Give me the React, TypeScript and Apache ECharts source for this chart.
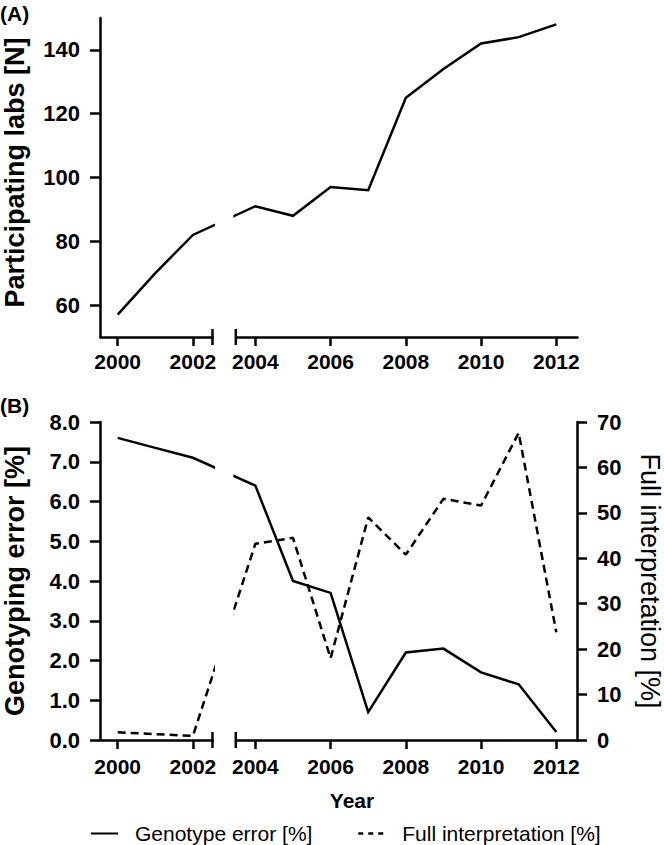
import React, { useEffect, useRef } from 'react';
import * as echarts from 'echarts';

// ---- data ----
const yearsA = [2000, 2001, 2002, 2004, 2005, 2006, 2007, 2008, 2009, 2010, 2011, 2012];
const participatingLabs = [57, 70, 82, 91, 88, 97, 96, 125, 134, 142, 144, 148];

const yearsB = [2000, 2001, 2002, 2004, 2005, 2006, 2007, 2008, 2009, 2010, 2011, 2012];
const genotypeError = [7.6, 7.35, 7.1, 6.4, 4.0, 3.7, 0.7, 2.2, 2.3, 1.7, 1.4, 0.2];
const fullInterpretation = [1.7, 1.3, 0.9, 43.2, 44.5, 18.0, 49.0, 40.8, 53.1, 51.6, 67.6, 23.7];

const yearTicks = [2000, 2002, 2004, 2006, 2008, 2010, 2012];
const labsTicks = [60, 80, 100, 120, 140];
const axisBreak = { start: 2002.52, end: 2003.48, gap: 0.62 };

const FONT = "'Liberation Sans', Arial, Helvetica, sans-serif";
const BLACK = '#000';

const pairs = (xs: number[], ys: number[]) => xs.map((x, i) => [x, ys[i]]);

export default function App() {
  const ref = useRef<HTMLDivElement>(null);

  useEffect(() => {
    if (!ref.current) return;
    const chart = echarts.init(ref.current, undefined, { renderer: 'svg' });

    const xAxisBase = (gridIndex: number, margin: number, extra: any = {}) => ({
      type: 'value',
      gridIndex,
      min: 1999.53,
      max: 2012.55,
      breaks: [{ ...axisBreak }],
      breakArea: { show: false },
      axisLine: { show: true, onZero: false, lineStyle: { color: BLACK, width: 2.5 } },
      axisTick: { show: true, customValues: yearTicks, length: 9, lineStyle: { color: BLACK, width: 2.5 } },
      axisLabel: {
        customValues: yearTicks,
        color: BLACK,
        fontSize: 21,
        fontWeight: 'bold',
        fontFamily: FONT,
        margin,
        formatter: (v: number) => String(v),
      },
      splitLine: { show: false },
      ...extra,
    });

    const yAxisStyle = {
      axisLine: { show: true, lineStyle: { color: BLACK, width: 2.5 } },
      axisTick: { show: true, length: 10, lineStyle: { color: BLACK, width: 2.5 } },
      splitLine: { show: false },
    };

    const option: any = {
      animation: false,
      backgroundColor: '#fff',
      grid: [
        { left: 100, top: 18, width: 477, height: 319, outerBoundsMode: 'none', containLabel: false },
        { left: 100, top: 422, width: 477, height: 318, outerBoundsMode: 'none', containLabel: false },
      ],
      xAxis: [
        xAxisBase(0, 14),
        xAxisBase(1, 16, {
          name: 'Year',
          nameLocation: 'middle',
          nameGap: 50,
          nameTextStyle: { color: BLACK, fontSize: 21, fontWeight: 'bold', fontFamily: FONT, padding: [0, 0, 0, 27] },
        }),
      ],
      yAxis: [
        {
          type: 'value',
          gridIndex: 0,
          min: 50,
          max: 150,
          ...yAxisStyle,
          axisTick: { ...yAxisStyle.axisTick, customValues: labsTicks },
          axisLabel: { customValues: labsTicks, color: BLACK, fontSize: 22, fontWeight: 'bold', fontFamily: FONT, margin: 20 },
          name: 'Participating labs [N]',
          nameLocation: 'middle',
          nameGap: 72,
          nameTextStyle: { color: BLACK, fontSize: 27, fontWeight: 'bold', fontFamily: FONT, padding: [0, 0, 0, 10] },
        },
        {
          type: 'value',
          gridIndex: 1,
          min: 0,
          max: 8,
          interval: 1,
          ...yAxisStyle,
          axisLabel: {
            color: BLACK, fontSize: 22, fontWeight: 'bold', fontFamily: FONT, margin: 20,
            formatter: (v: number) => v.toFixed(1),
          },
          name: 'Genotyping error [%]',
          nameLocation: 'middle',
          nameGap: 72,
          nameTextStyle: { color: BLACK, fontSize: 27, fontWeight: 'bold', fontFamily: FONT },
        },
        {
          type: 'value',
          gridIndex: 1,
          position: 'right',
          min: 0,
          max: 70,
          interval: 10,
          ...yAxisStyle,
          axisLabel: { color: BLACK, fontSize: 22, fontWeight: 'bold', fontFamily: FONT, margin: 20 },
          name: 'Full interpretation [%]',
          nameLocation: 'middle',
          nameRotate: -90,
          nameGap: 59,
          nameTextStyle: { color: BLACK, fontSize: 27, fontWeight: 'normal', fontFamily: FONT },
        },
      ],
      legend: [
        {
          data: ['Genotype error [%]'],
          left: 90,
          top: 823,
          padding: 0,
          itemWidth: 27,
          itemHeight: 14,
          selectedMode: false,
          itemStyle: { color: 'transparent', borderColor: 'transparent', borderWidth: 0, opacity: 0 },
          textStyle: { color: BLACK, fontSize: 21, fontFamily: FONT, padding: [0, 0, 0, 12] },
        },
        {
          data: ['Full interpretation [%]'],
          left: 357,
          top: 823,
          padding: 0,
          itemWidth: 27,
          itemHeight: 14,
          selectedMode: false,
          itemStyle: { color: 'transparent', borderColor: 'transparent', borderWidth: 0, opacity: 0 },
          lineStyle: { type: [5, 5], width: 2.5 },
          textStyle: { color: BLACK, fontSize: 21, fontFamily: FONT, padding: [0, 0, 0, 12] },
        },
      ],
      series: [
        {
          type: 'line',
          name: 'Participating labs',
          xAxisIndex: 0,
          yAxisIndex: 0,
          data: pairs(yearsA, participatingLabs),
          symbol: 'none',
          showSymbol: false,
          lineStyle: { color: BLACK, width: 2.5, join: 'miter' },
          itemStyle: { color: BLACK },
        },
        {
          type: 'line',
          name: 'Genotype error [%]',
          xAxisIndex: 1,
          yAxisIndex: 1,
          data: pairs(yearsB, genotypeError),
          symbol: 'none',
          showSymbol: false,
          lineStyle: { color: BLACK, width: 2.5, join: 'miter' },
          itemStyle: { color: BLACK },
        },
        {
          type: 'line',
          name: 'Full interpretation [%]',
          xAxisIndex: 1,
          yAxisIndex: 2,
          data: pairs(yearsB, fullInterpretation),
          symbol: 'none',
          showSymbol: false,
          lineStyle: { color: BLACK, width: 2.5, type: [8, 5] },
          itemStyle: { color: BLACK },
        },
      ],
    };

    chart.setOption(option);

    const graphics: any[] = [
      { type: 'text', left: 0, top: 3, z: 100, style: { text: '(A)', fill: BLACK, font: `bold 21px ${FONT}` } },
      { type: 'text', left: 0, top: 395, z: 100, style: { text: '(B)', fill: BLACK, font: `bold 21px ${FONT}` } },
    ];
    const px = (xi: number, v: number) => chart.convertToPixel({ xAxisIndex: xi } as any, v) as unknown as number;

    const panels = [
      { xi: 0, yi: 0, yMin: 50, yMax: 150 },
      { xi: 1, yi: 1, yMin: 0, yMax: 8 },
    ];
    panels.forEach((p) => {
      const x1 = px(p.xi, axisBreak.start);
      const x2 = px(p.xi, axisBreak.end);
      const yb = chart.convertToPixel({ yAxisIndex: p.yi } as any, p.yMin) as unknown as number;
      const yt = chart.convertToPixel({ yAxisIndex: p.yi } as any, p.yMax) as unknown as number;
      if (typeof x1 !== 'number' || typeof x2 !== 'number') return;
      graphics.push({
        type: 'rect', z: 100,
        shape: { x: x1 + 2.5, y: yt - 5, width: x2 - x1 - 5, height: yb - yt + 10 },
        style: { fill: '#fff' },
      });
      [x1, x2].forEach((x) => {
        graphics.push({
          type: 'line', z: 101,
          shape: { x1: x, y1: yb - 8, x2: x, y2: yb + 8 },
          style: { stroke: BLACK, lineWidth: 2.5 },
        });
      });
    });
    chart.setOption({ graphic: graphics });

    return () => chart.dispose();
  }, []);

  return <div ref={ref} style={{ width: 664, height: 845, position: 'absolute', left: 0, top: 0 }} />;
}
